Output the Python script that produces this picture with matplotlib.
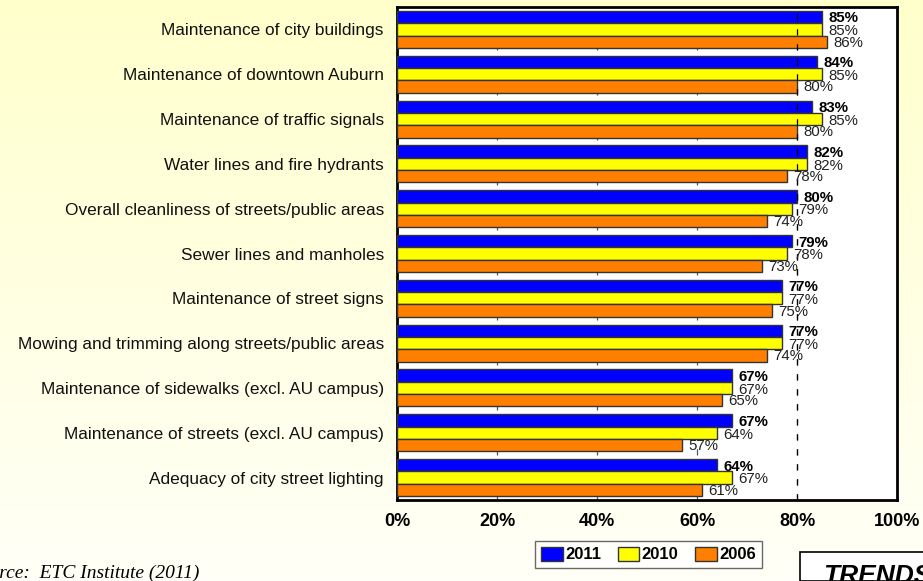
import matplotlib
matplotlib.use("Agg")
import matplotlib.pyplot as plt
import numpy as np
from matplotlib.patches import Rectangle

categories = [
    "Maintenance of city buildings",
    "Maintenance of downtown Auburn",
    "Maintenance of traffic signals",
    "Water lines and fire hydrants",
    "Overall cleanliness of streets/public areas",
    "Sewer lines and manholes",
    "Maintenance of street signs",
    "Mowing and trimming along streets/public areas",
    "Maintenance of sidewalks (excl. AU campus)",
    "Maintenance of streets (excl. AU campus)",
    "Adequacy of city street lighting",
]
v2011 = [85, 84, 83, 82, 80, 79, 77, 77, 67, 67, 64]
v2010 = [85, 85, 85, 82, 79, 78, 77, 77, 67, 64, 67]
v2006 = [86, 80, 80, 78, 74, 73, 75, 74, 65, 57, 61]
series_names = ["2011", "2010", "2006"]
colors = ["#0000FF", "#FFFF00", "#FF8000"]
xticks = [0, 20, 40, 60, 80, 100]

plt.rcParams['font.family'] = ['Liberation Sans', 'DejaVu Sans']

W, H = 923, 581
fig = plt.figure(figsize=(W / 100, H / 100), dpi=100)

# background gradient
bg = fig.add_axes([0, 0, 1, 1], zorder=-10)
grad = np.linspace(0, 1, 256).reshape(-1, 1)
top = np.array([1.0, 1.0, 0.80])
bot = np.array([1.0, 1.0, 0.97])
img = top[None, None, :] * (1 - grad[:, :, None]) + bot[None, None, :] * grad[:, :, None]
bg.imshow(img, aspect='auto', extent=[0, 1, 0, 1])
bg.set_axis_off()

x0, x1 = 397, 897
y_top, y_bot = 7, 500
ax = fig.add_axes([x0 / W, 1 - y_bot / H, (x1 - x0) / W, (y_bot - y_top) / H])
ax.set_facecolor("white")

n = len(categories)
ypos = np.arange(n)
bh = 0.275
data = [v2011, v2010, v2006]
offsets = [-bh, 0, bh]
for vals, off, col, name in zip(data, offsets, colors, series_names):
    ax.barh(ypos + off, vals, height=bh, color=col, edgecolor="#333333",
            linewidth=1.0, label=name, zorder=3)

fs_lab = 10.8
for i in range(n):
    ax.text(v2011[i] + 1.3, ypos[i] - bh + 0.03, f"{v2011[i]}%", fontsize=fs_lab,
            fontweight='bold', va='center', ha='left', zorder=5)
    ax.text(v2010[i] + 1.3, ypos[i] + 0.04, f"{v2010[i]}%", fontsize=fs_lab,
            va='center', ha='left', color="#222222", zorder=5)
    ax.text(v2006[i] + 1.3, ypos[i] + bh + 0.02, f"{v2006[i]}%", fontsize=fs_lab,
            va='center', ha='left', color="#222222", zorder=5)

ax.set_xlim(0, 100)
ax.set_ylim(n - 0.5, -0.5)
for gx in xticks[1:-1]:
    ax.axvline(gx, color="#555555", linestyle=(0, (5, 7)), linewidth=0.9, zorder=1)
ax.axvline(80, color="black", linestyle=(0, (5, 7)), linewidth=0.9, zorder=4)

ax.set_xticks(xticks)
ax.set_xticklabels([f"{t}%" for t in xticks], fontsize=13, fontweight='bold')
ax.set_yticks(ypos)
ax.set_yticklabels(categories, fontsize=12.4, color="#111111")
ax.tick_params(axis='both', length=0)
ax.tick_params(axis='y', pad=9.5)
ax.tick_params(axis='x', pad=9)
for s in ax.spines.values():
    s.set_linewidth(2)
    s.set_color("black")

leg = ax.legend(loc='upper left', bbox_to_anchor=((535 - x0) / (x1 - x0), -0.083),
                ncol=3, frameon=True, fancybox=False, edgecolor="#444444",
                prop={'weight': 'bold', 'size': 12}, handlelength=1.3,
                handleheight=0.9, handletextpad=0.15, columnspacing=1.0,
                borderpad=0.35, borderaxespad=0)
leg.get_frame().set_linewidth(1.0)
for p in leg.get_patches():
    p.set_edgecolor("#333333")

fig.text(-30 / W, 1 - 573 / H, "Source:  ETC Institute (2011)", fontsize=14,
         family=['Liberation Serif'], style='italic', va='center', ha='left')

fig.patches.append(Rectangle((800 / W, 0), 0.5, (H - 552) / H, transform=fig.transFigure,
                             facecolor="white", edgecolor="black", linewidth=1.2))
fig.text(823 / W, 1 - 583 / H, "TRENDS", fontsize=19, fontweight='bold', style='italic',
         va='baseline', ha='left')

fig.savefig("out.png", dpi=100)
